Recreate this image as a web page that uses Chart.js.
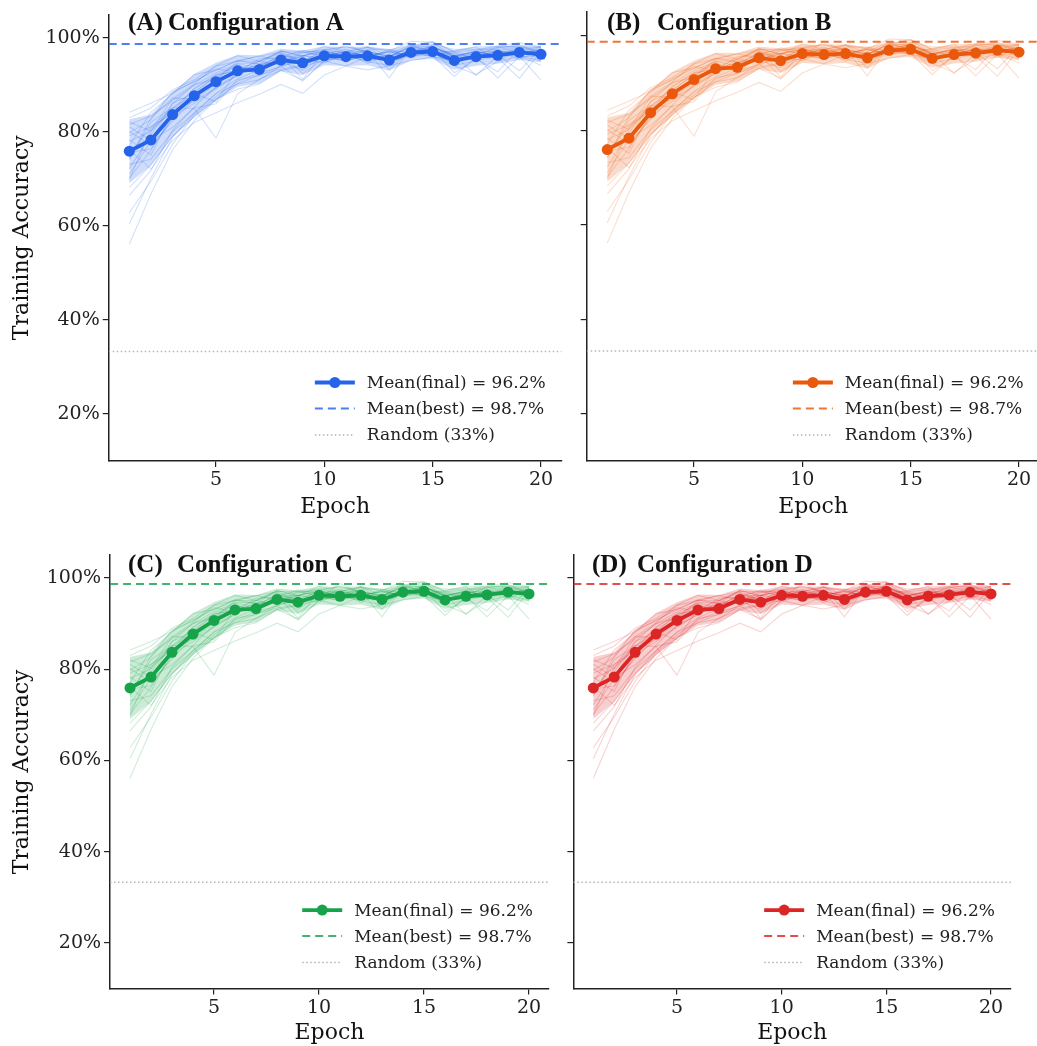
<!DOCTYPE html>
<html>
<head>
<meta charset="utf-8">
<script src="https://cdn.jsdelivr.net/npm/chart.js@4.4.1/dist/chart.umd.min.js"></script>
<style>
  html, body { margin: 0; padding: 0; background: #fff; overflow: hidden; }
  body { width: 1037px; height: 1046px; position: relative; }
  canvas { position: absolute; }
</style>
</head>
<body>
<canvas id="cA" width="575" height="525" style="left:0px;top:0px"></canvas>
<canvas id="cB" width="470" height="525" style="left:580px;top:0px"></canvas>
<canvas id="cC" width="560" height="506" style="left:0px;top:540px"></canvas>
<canvas id="cD" width="460" height="506" style="left:566px;top:540px"></canvas>
<script>
// ---- data (same runs in every configuration) ----
var epochs = [1, 2, 3, 4, 5, 6, 7, 8, 9, 10, 11, 12, 13, 14, 15, 16, 17, 18, 19, 20];
var meanAcc = [75.9, 78.3, 83.7, 87.7, 90.7, 93.0, 93.3, 95.3, 94.7, 96.2, 96.0, 96.2, 95.3, 96.9, 97.1, 95.2, 96.0, 96.3, 96.9, 96.5];
var stdAcc = [6.8, 5.4, 4.8, 4.6, 4.0, 3.4, 3.0, 2.4, 2.6, 2.0, 2.0, 2.0, 2.3, 1.7, 1.6, 2.0, 1.9, 1.8, 1.6, 1.7];
var bestMean = 98.7;
var finalMean = 96.2;
var randomAcc = 33.3;
var runAcc = [
    [84.2, 86.1, 88.3, 90.8, 93.1, 95.2, 94.4, 97.3, 96.1, 97.5, 98.2, 97.1, 96.0, 98.4, 99.2, 97.0, 97.4, 98.3, 98.1, 97.3],
    [56.1, 66.8, 76.2, 82.4, 86.9, 90.3, 92.1, 93.4, 94.2, 95.8, 95.1, 96.3, 97.0, 96.2, 98.1, 95.4, 96.2, 97.1, 97.4, 96.1],
    [60.4, 70.2, 78.9, 84.1, 88.2, 91.3, 93.2, 95.0, 93.1, 96.2, 97.1, 96.0, 95.2, 97.3, 97.0, 96.1, 97.2, 95.8, 91.4, 97.2],
    [78.3, 75.1, 84.2, 89.3, 92.2, 94.1, 92.8, 96.4, 95.2, 97.1, 96.3, 97.2, 91.5, 98.0, 97.3, 94.8, 96.1, 97.2, 96.0, 98.1],
    [72.2, 79.4, 86.1, 88.2, 86.4, 93.2, 95.1, 94.2, 96.3, 95.2, 97.0, 98.1, 96.2, 97.1, 98.2, 96.3, 92.0, 96.2, 97.3, 96.0],
    [80.1, 77.2, 82.3, 87.1, 91.2, 94.3, 92.1, 96.2, 97.1, 96.0, 95.2, 96.1, 97.2, 96.1, 96.4, 97.3, 98.1, 95.2, 97.1, 97.2],
    [74.3, 82.1, 85.2, 85.0, 78.7, 88.1, 91.2, 93.1, 91.0, 95.2, 96.1, 95.0, 94.1, 97.2, 96.2, 91.8, 96.0, 97.1, 96.2, 95.1],
    [76.2, 72.1, 78.2, 82.0, 84.1, 86.2, 88.0, 90.1, 88.2, 92.1, 94.0, 93.2, 94.1, 95.2, 96.0, 94.1, 92.2, 95.0, 96.1, 94.2],
    [82.1, 80.2, 87.1, 90.2, 94.1, 96.2, 95.1, 97.2, 96.1, 98.2, 97.1, 98.0, 97.2, 99.3, 99.1, 97.2, 98.1, 98.2, 99.0, 98.1],
    [70.2, 76.1, 83.2, 86.1, 89.2, 92.1, 94.2, 95.1, 96.2, 97.0, 96.1, 95.2, 96.1, 98.1, 97.2, 96.0, 97.1, 96.1, 97.2, 97.0],
    [77.1, 84.2, 88.1, 92.2, 93.1, 95.2, 96.1, 97.0, 95.1, 97.2, 98.1, 97.0, 96.1, 98.2, 98.0, 96.2, 97.1, 98.0, 97.1, 98.2],
    [73.1, 74.2, 80.1, 84.0, 88.1, 90.2, 91.1, 94.0, 90.8, 95.1, 94.0, 96.1, 95.0, 96.2, 97.1, 94.1, 95.2, 96.0, 97.1, 96.2],
    [79.2, 81.1, 84.0, 88.2, 92.0, 93.1, 94.2, 96.1, 95.0, 96.2, 97.0, 95.1, 96.2, 97.0, 96.1, 95.2, 96.1, 97.0, 96.2, 91.0],
    [81.1, 78.2, 86.0, 90.1, 91.2, 95.0, 96.2, 95.1, 97.0, 97.2, 96.1, 98.0, 95.1, 97.2, 98.1, 96.0, 97.2, 96.1, 98.0, 97.1],
    [68.2, 73.0, 79.1, 83.2, 87.0, 89.1, 90.2, 93.1, 94.0, 95.2, 96.0, 96.2, 96.0, 96.1, 97.0, 95.1, 96.0, 91.5, 96.1, 96.0],
    [75.1, 81.0, 85.1, 88.0, 90.1, 93.0, 93.1, 96.0, 96.2, 97.1, 97.0, 96.2, 97.0, 97.1, 98.0, 96.1, 97.0, 97.1, 97.0, 97.2],
    [83.0, 85.1, 89.0, 91.1, 94.0, 95.1, 95.0, 97.1, 97.0, 96.1, 97.2, 97.1, 96.0, 98.1, 99.0, 96.0, 96.1, 98.1, 98.0, 98.0],
    [71.0, 78.1, 81.0, 85.1, 86.0, 91.1, 92.0, 94.1, 95.1, 96.0, 95.1, 97.0, 96.1, 97.0, 96.0, 95.0, 97.0, 96.2, 97.0, 96.1],
    [78.0, 80.1, 85.0, 89.1, 92.1, 93.0, 93.2, 95.1, 96.0, 96.1, 97.1, 96.0, 97.1, 96.0, 97.1, 97.0, 96.2, 97.1, 97.1, 97.0],
    [74.1, 83.0, 87.2, 87.0, 90.0, 93.2, 94.1, 96.1, 91.2, 97.1, 96.2, 97.1, 95.0, 97.1, 97.2, 95.1, 96.0, 96.1, 97.0, 96.1],
    [66.5, 71.8, 80.4, 85.3, 89.6, 92.4, 93.8, 95.6, 94.3, 96.8, 95.7, 96.9, 94.6, 97.8, 98.3, 95.9, 96.7, 97.4, 97.9, 96.8],
    [81.6, 83.4, 86.7, 89.9, 92.6, 94.5, 93.6, 96.7, 94.9, 96.4, 97.6, 95.8, 97.5, 96.8, 97.6, 92.6, 95.4, 96.8, 96.5, 97.6],
    [62.8, 69.5, 77.4, 83.6, 87.5, 90.8, 92.6, 93.8, 95.6, 94.7, 96.6, 97.4, 93.2, 97.6, 96.6, 96.8, 95.6, 92.8, 97.8, 95.6],
    [79.8, 82.6, 88.6, 90.6, 93.5, 92.6, 95.6, 95.8, 97.4, 96.6, 95.6, 97.6, 97.6, 95.8, 98.6, 97.6, 97.6, 97.6, 95.4, 97.6],
    [75.6, 76.4, 82.8, 88.6, 91.6, 94.6, 94.6, 94.6, 96.8, 97.6, 96.8, 94.6, 96.6, 98.6, 96.8, 94.6, 96.6, 97.8, 98.6, 96.6],
    [69.8, 80.6, 84.4, 86.6, 89.4, 92.0, 95.0, 96.8, 92.4, 95.6, 98.8, 96.6, 95.6, 96.6, 97.8, 96.6, 95.8, 96.4, 93.0, 97.8]
];
var xTicks = [5, 10, 15, 20];
var yTicks = [20, 40, 60, 80, 100];
var panelLetters = ['A', 'B', 'C', 'D'];
var panelColors = ['#2563eb', '#ea580c', '#16a34a', '#dc2626'];

var xMin = 0.05, xMax = 20.95, yMin = 10, yMax = 105;

// layout of each panel (canvas px)
var panels = [
    {id: 'cA', padTop: 12, padRight: 13.4, yW: 108.7, xH: 64, showY: true, tagX: 128, titleX: 168, titleBase: 30, xTitlePad: 5},
    {id: 'cB', padTop: 12, padRight: 10.4, yW: 6.7, xH: 64, showY: false, tagX: 27, titleX: 77, titleBase: 30, xTitlePad: 5},
    {id: 'cC', padTop: 15.2, padRight: 11.05, yW: 110.05, xH: 57.4, showY: true, tagX: 128, titleX: 177, titleBase: 31.7, xTitlePad: 0},
    {id: 'cD', padTop: 15.2, padRight: 15.1, yW: 7.4, xH: 57.4, showY: false, tagX: 26, titleX: 71, titleBase: 31.7, xTitlePad: 0}
];

function rgba(hex, a) {
    var n = parseInt(hex.slice(1), 16);
    return 'rgba(' + (n >> 16) + ',' + ((n >> 8) & 255) + ',' + (n & 255) + ',' + a + ')';
}
function pts(arr) {
    return epochs.map(function (e, i) { return {x: e, y: arr[i]}; });
}

// title + legend drawn on top
var decorPlugin = {
    id: 'decor',
    afterDraw: function (chart, args, o) {
        var ctx = chart.ctx, area = chart.chartArea;
        ctx.save();
        ctx.fillStyle = '#111';
        ctx.textAlign = 'left';
        ctx.textBaseline = 'alphabetic';
        ctx.font = 'bold 25px "Liberation Serif"';
        ctx.fillText('(' + o.letter + ')', o.tagX, o.titleBase);
        ctx.fillText('Configuration ' + o.letter, o.titleX, o.titleBase);

        var labels = ['Mean(final) = ' + finalMean.toFixed(1) + '%',
                      'Mean(best) = ' + bestMean.toFixed(1) + '%',
                      'Random (' + Math.round(randomAcc) + '%)'];
        ctx.font = '17px "DejaVu Serif"';
        var w = Math.max.apply(null, labels.map(function (l) { return ctx.measureText(l).width; }));
        var tx = area.right - 16 - w;
        var hx0 = tx - 52, hx1 = tx - 12;
        var rows = [78.5, 52.5, 26];
        ctx.textBaseline = 'middle';
        for (var i = 0; i < 3; i++) {
            var y = area.bottom - rows[i];
            ctx.beginPath();
            if (i === 0) {
                ctx.strokeStyle = o.color; ctx.lineWidth = 3.8; ctx.setLineDash([]);
            } else if (i === 1) {
                ctx.strokeStyle = rgba(o.color, 0.82); ctx.lineWidth = 2; ctx.setLineDash([8, 5]);
            } else {
                ctx.strokeStyle = '#b5b5b5'; ctx.lineWidth = 1.5; ctx.setLineDash([1.5, 2.5]);
            }
            ctx.moveTo(hx0, y); ctx.lineTo(hx1, y); ctx.stroke();
            ctx.setLineDash([]);
            if (i === 0) {
                ctx.beginPath(); ctx.fillStyle = o.color;
                ctx.arc((hx0 + hx1) / 2, y, 5.5, 0, Math.PI * 2); ctx.fill();
            }
            ctx.fillStyle = '#222';
            ctx.fillText(labels[i], tx, y + 1);
        }
        ctx.restore();
    }
};

panels.forEach(function (p, k) {
    var color = panelColors[k];
    var datasets = [];
    // mean line with markers
    datasets.push({data: pts(meanAcc), borderColor: color, backgroundColor: color, borderWidth: 3.8,
        pointRadius: 5.5, pointBorderWidth: 0, pointBackgroundColor: color, order: 0});
    // best + random reference lines (span the whole axis)
    datasets.push({data: [{x: xMin, y: bestMean}, {x: xMax, y: bestMean}], borderColor: rgba(color, 0.82),
        borderWidth: 2, borderDash: [8, 5], pointRadius: 0, order: 1});
    datasets.push({data: [{x: xMin, y: randomAcc}, {x: xMax, y: randomAcc}], borderColor: '#b5b5b5',
        borderWidth: 1.5, borderDash: [1.5, 2.5], pointRadius: 0, order: 2});
    // std band
    datasets.push({data: pts(meanAcc.map(function (m, i) { return m + stdAcc[i]; })), borderWidth: 0,
        borderColor: 'rgba(0,0,0,0)', pointRadius: 0, fill: false, order: 3});
    datasets.push({data: pts(meanAcc.map(function (m, i) { return m - stdAcc[i]; })), borderWidth: 0,
        borderColor: 'rgba(0,0,0,0)', pointRadius: 0, fill: '-1', backgroundColor: rgba(color, 0.22), order: 3});
    // individual runs
    runAcc.forEach(function (r) {
        datasets.push({data: pts(r), borderColor: rgba(color, 0.2), borderWidth: 1.1, pointRadius: 0, order: 4});
    });

    new Chart(document.getElementById(p.id), {
        type: 'line',
        data: {datasets: datasets},
        plugins: [decorPlugin],
        options: {
            responsive: false,
            animation: false,
            layout: {padding: {top: p.padTop, right: p.padRight, left: 0, bottom: 0}},
            elements: {line: {tension: 0}},
            plugins: {
                legend: {display: false},
                tooltip: {enabled: false},
                decor: {letter: panelLetters[k], color: color, tagX: p.tagX, titleX: p.titleX, titleBase: p.titleBase}
            },
            scales: {
                x: {
                    type: 'linear', min: xMin, max: xMax,
                    afterBuildTicks: function (s) { s.ticks = xTicks.map(function (v) { return {value: v}; }); },
                    afterFit: function (s) { s.height = p.xH; },
                    grid: {drawOnChartArea: false, drawTicks: true, tickLength: 6, color: '#222', lineWidth: 1.2},
                    border: {color: '#222', width: 1.5},
                    ticks: {color: '#222', font: {family: 'DejaVu Serif', size: 19}, padding: 2, maxRotation: 0},
                    title: {display: true, text: 'Epoch', color: '#111', font: {family: 'DejaVu Serif', size: 22},
                        padding: {top: 0, bottom: p.xTitlePad}}
                },
                y: {
                    min: yMin, max: yMax,
                    afterBuildTicks: function (s) { s.ticks = yTicks.map(function (v) { return {value: v}; }); },
                    afterFit: function (s) { s.width = p.yW; },
                    grid: {drawOnChartArea: false, drawTicks: true, tickLength: 6, color: '#222', lineWidth: 1.2},
                    border: {color: '#222', width: 1.5},
                    ticks: {display: p.showY, color: '#222', font: {family: 'DejaVu Serif', size: 19}, padding: 3,
                        callback: function (v) { return v + '%'; }},
                    title: {display: p.showY, text: 'Training Accuracy', color: '#111',
                        font: {family: 'DejaVu Serif', size: 22}, padding: {top: 9, bottom: 0}}
                }
            }
        }
    });
});
</script>
</body>
</html>
